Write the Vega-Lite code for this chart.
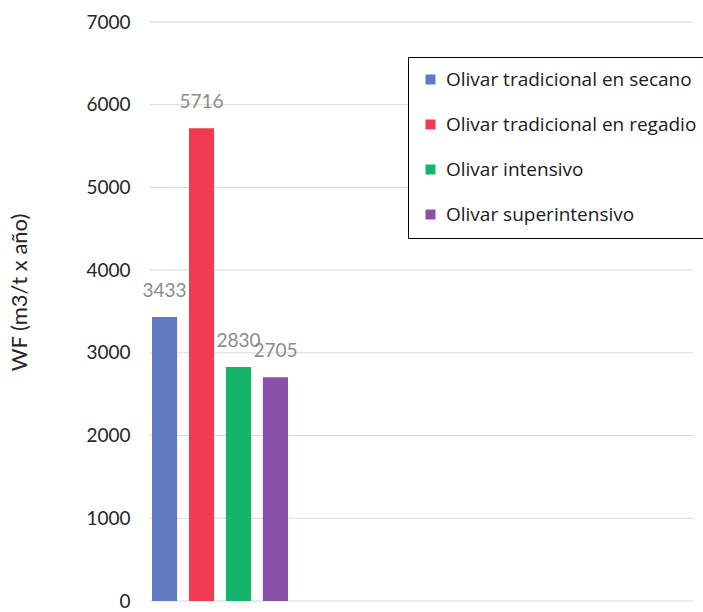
{
  "$schema": "https://vega.github.io/schema/vega-lite/v6.json",
  "width": 543,
  "height": 579,
  "autosize": {"type": "none"},
  "padding": {"left": 150, "top": 22, "right": 10, "bottom": 11},
  "background": "white",
  "config": {
    "view": {"stroke": null},
    "font": "Lato"
  },
  "datasets": {
    "wf": [
      {"serie": "Olivar tradicional en secano", "wf": 3433},
      {"serie": "Olivar tradicional en regadio", "wf": 5716},
      {"serie": "Olivar intensivo", "wf": 2830},
      {"serie": "Olivar superintensivo", "wf": 2705}
    ],
    "grid": [
      {"g": 0}, {"g": 1000}, {"g": 2000}, {"g": 3000}, {"g": 4000}, {"g": 5000}, {"g": 6000}, {"g": 7000}
    ]
  },
  "layer": [
    {
      "data": {"name": "grid"},
      "mark": {"type": "rule", "color": "#d9d9d9", "strokeWidth": 1},
      "encoding": {
        "y": {
          "field": "g",
          "type": "quantitative",
          "scale": {"domain": [0, 7000], "nice": false},
          "axis": {
            "title": "WF (m3/t x año)",
            "values": [0, 1000, 2000, 3000, 4000, 5000, 6000, 7000],
            "format": "d",
            "domain": false,
            "ticks": false,
            "tickSize": 0,
            "labelPadding": 20,
            "labelFontSize": 19,
            "labelColor": "#262626",
            "labelFont": "Lato",
            "grid": false,
            "titleFontSize": 22,
            "titleFontWeight": "normal",
            "titleColor": "#262626",
            "titleFont": "Lato",
            "titleX": -131,
            "titleY": 270,
            "titleBaseline": "middle",
            "titleAlign": "center",
            "titleAngle": -90
          }
        }
      }
    },
    {
      "data": {"name": "wf"},
      "mark": {"type": "bar"},
      "encoding": {
        "x": {
          "field": "serie",
          "type": "nominal",
          "sort": null,
          "axis": null,
          "scale": {"range": [2, 138], "paddingInner": 0.32, "paddingOuter": 0}
        },
        "y": {"field": "wf", "type": "quantitative"},
        "color": {
          "field": "serie",
          "type": "nominal",
          "sort": null,
          "scale": {
            "domain": ["Olivar tradicional en secano", "Olivar tradicional en regadio", "Olivar intensivo", "Olivar superintensivo"],
            "range": ["#5f7cc0", "#f03c50", "#16b46a", "#8a52a6"]
          },
          "legend": {
            "title": null,
            "orient": "none",
            "legendX": 258,
            "legendY": 35,
            "strokeColor": "#000000",
            "fillColor": "#ffffff",
            "padding": 13,
            "symbolType": "square",
            "symbolSize": 100,
            "symbolStrokeWidth": 0,
            "labelFontSize": 19,
            "labelColor": "#1a1a1a",
            "labelFont": "Open Sans",
            "labelOffset": 6,
            "rowPadding": 25,
            "labelLimit": 400
          }
        }
      }
    },
    {
      "data": {"name": "wf"},
      "mark": {"type": "text", "baseline": "bottom", "dy": -16, "fontSize": 19, "color": "#8c8c8c", "font": "Lato"},
      "encoding": {
        "x": {"field": "serie", "type": "nominal", "sort": null},
        "y": {"field": "wf", "type": "quantitative"},
        "text": {"field": "wf", "type": "quantitative", "format": "d"}
      }
    }
  ]
}
